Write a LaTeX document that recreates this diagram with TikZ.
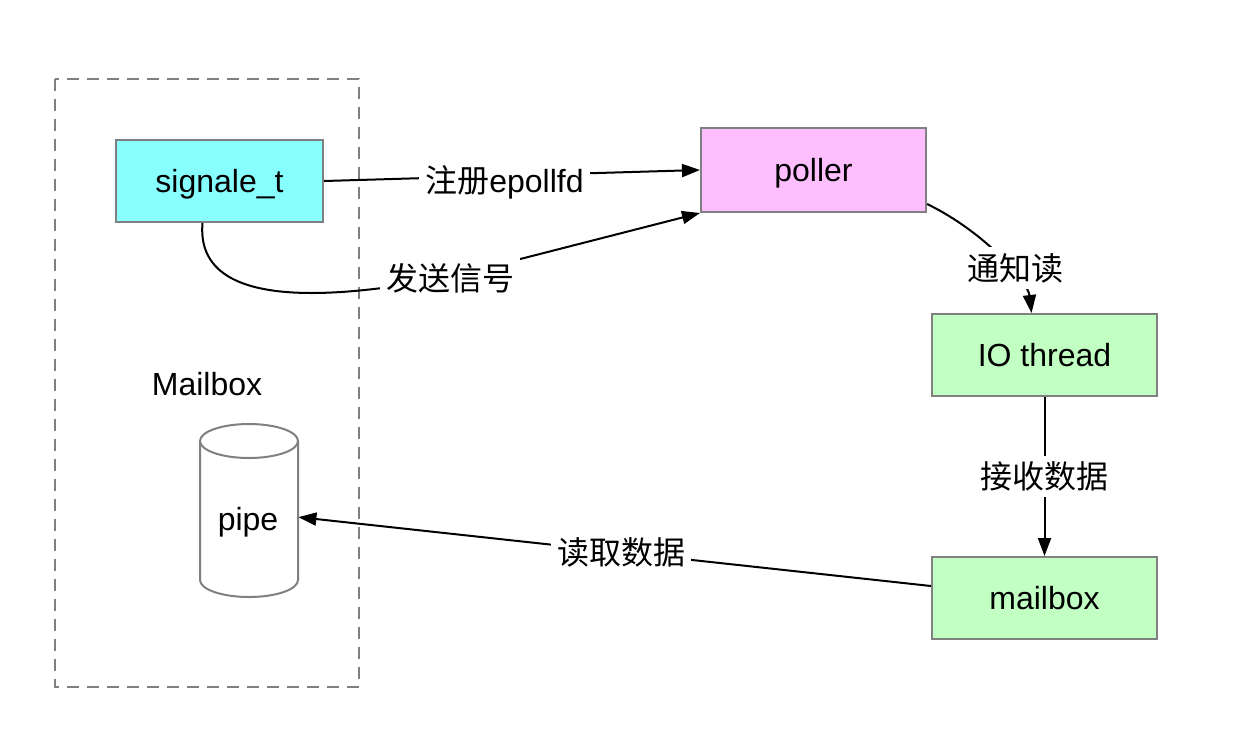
\documentclass[tikz,border=0pt]{standalone}
\usepackage{fontspec}
\setmainfont{Liberation Sans}
\newfontfamily\cjk{Noto Sans CJK SC}
\usetikzlibrary{arrows.meta}
\definecolor{cyanfill}{HTML}{88FFFF}
\definecolor{pinkfill}{HTML}{FFBFFF}
\definecolor{greenfill}{HTML}{C2FFC2}
\definecolor{bordergray}{HTML}{808080}
\tikzset{
  box/.style={draw=bordergray, line width=1pt, minimum width=112.5pt, minimum height=41pt, inner sep=0pt, font=\fontsize{16}{19}\selectfont, text height=13pt, text depth=2pt},
  lbl/.style={fill=white, inner sep=3pt, font=\fontsize{16}{19}\selectfont},
  conn/.style={line width=1pt, -{Triangle[length=9pt,width=6.5pt]}},
  plain/.style={line width=1pt}
}
\begin{document}
\begin{tikzpicture}[x=0.5pt,y=-0.5pt]
\useasboundingbox (0,0) rectangle (1256,740);
% dashed group
\draw[bordergray, dashed, dash pattern=on 6pt off 4pt, line width=0.8pt] (55,79) rectangle (359,687);
\node[font=\fontsize{16}{19}\selectfont] (mbxlabel) at (207,384) {Mailbox};
% nodes
\node[box, fill=cyanfill, minimum width=103.5pt] (sig) at (219.5,181) {signale\_t};
\node[box, fill=pinkfill, minimum height=42pt] (poller) at (813.5,170) {poller};
\node[box, fill=greenfill] (io) at (1044.5,355) {IO thread};
\node[box, fill=greenfill] (mbx) at (1044.5,598) {mailbox};
% pipe cylinder
\node[minimum width=49pt, minimum height=86.5pt, inner sep=0pt] (pipe) at (249,510.5) {};
\draw[bordergray, line width=1pt, fill=white] (200,441) -- (200,580) arc[start angle=180, end angle=0, x radius=49, y radius=17] -- (298,441);
\draw[bordergray, line width=1pt, fill=white] (249,441) ellipse[x radius=49, y radius=17];
\node[font=\fontsize{16}{19}\selectfont] (pipetext) at (248,522) {pipe};
% connectors
\draw[conn] (sig.east) -- node[lbl, pos=0.48, yshift=-3.5pt] (l1) {{\cjk 注册}epollfd} (poller.west);
\coordinate (c2s) at ([xshift=-8.5pt]sig.south);
\draw[conn] (c2s) .. controls (195,310) and (330,300) .. (450,277) -- (poller.south west);
\node[lbl] (l2) at (450,278) {\cjk 发送信号};
\coordinate (c3e) at ([xshift=-6.5pt]io.north);
\draw[conn] ([yshift=-17pt]poller.east) .. controls (985,232) and (1028,282) .. (c3e);
\node[lbl] (l3) at (1015,268) {\cjk 通知读};
\draw[conn] (io.south) -- node[lbl] (l4) {\cjk 接收数据} (mbx.north);
\coordinate (c5e) at ([yshift=-3.3pt]pipe.east);
\draw[conn] ([yshift=6pt]mbx.west) -- node[lbl, pos=0.49] (l5) {\cjk 读取数据} (c5e);
\end{tikzpicture}
\end{document}
